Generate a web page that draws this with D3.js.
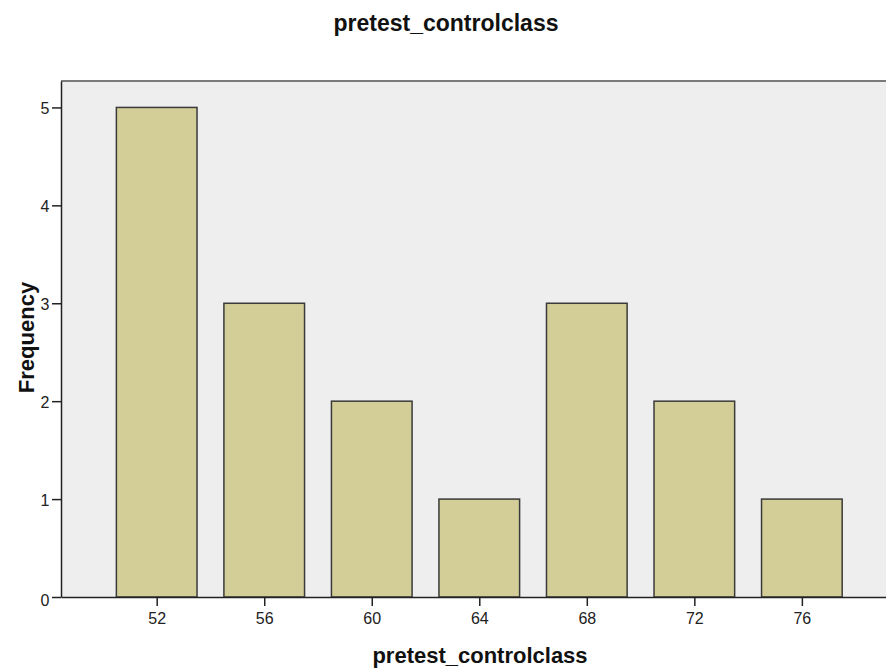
<!DOCTYPE html>
<html><head><meta charset="utf-8">
<script src="https://cdn.jsdelivr.net/npm/d3@7"></script>
<style>body{margin:0;background:#fff;} text{font-family:"Liberation Sans",Arial,sans-serif;}</style>
</head><body>
<svg id="c" width="886" height="668"></svg>
<script>
const categories = [52, 56, 60, 64, 68, 72, 76];
const frequencies = [5, 3, 2, 1, 3, 2, 1];
const yTicks = [0, 1, 2, 3, 4, 5];
const title = "pretest_controlclass";
const xTitle = "pretest_controlclass";
const yTitle = "Frequency";

const svg = d3.select("#c");
const L = 61, R = 886, T = 81, B = 597;
const x = d3.scaleLinear().domain([48.44, 79.13]).range([L, R]);
const y = d3.scaleLinear().domain([0, 5.27]).range([B, T]);

svg.append("rect").attr("x", L).attr("y", T).attr("width", R - L).attr("height", B - T).attr("fill", "#eeeeee");
svg.append("line").attr("x1", L).attr("x2", R).attr("y1", T).attr("y2", T).attr("stroke", "#7a7a7a").attr("stroke-width", 2);

svg.selectAll("rect.bar").data(categories).join("rect").attr("class", "bar")
  .attr("x", d => x(d - 1.5)).attr("width", d => x(d + 1.5) - x(d - 1.5))
  .attr("y", (d, i) => y(frequencies[i])).attr("height", (d, i) => y(0) - y(frequencies[i]))
  .attr("fill", "#d3ce97").attr("stroke", "#3a3a3a").attr("stroke-width", 1.5);

const font = "Liberation Sans, Arial, sans-serif";
const xAxis = svg.append("g").attr("transform", `translate(0,${B})`)
  .call(d3.axisBottom(x).tickValues(categories).tickSize(9).tickSizeOuter(0));
xAxis.select(".domain").attr("stroke", "#222").attr("stroke-width", 1.5);
xAxis.selectAll(".tick line").attr("stroke", "#222").attr("stroke-width", 1.5);
xAxis.selectAll(".tick text").attr("font-size", 16).attr("fill", "#222").attr("y", 27).attr("dy", 0).style("font-family", font);

const yAxis = svg.append("g").attr("transform", `translate(${L},0)`)
  .call(d3.axisLeft(y).tickValues(yTicks).tickSize(9).tickSizeOuter(0).tickFormat(d3.format("d")));
yAxis.select(".domain").attr("stroke", "#222").attr("stroke-width", 1.5);
yAxis.selectAll(".tick line").attr("stroke", "#222").attr("stroke-width", 1.5);
yAxis.selectAll(".tick text").attr("font-size", 16).attr("fill", "#222").attr("x", -11.5).attr("dy", "0.4em").style("font-family", font);
yAxis.selectAll(".tick").filter(d => d === 0).select("text").attr("dy", "0.55em");

svg.append("text").attr("x", 446).attr("y", 31).attr("text-anchor", "middle")
  .attr("font-size", 23).attr("font-weight", "bold").attr("fill", "#111").text(title);
svg.append("text").attr("x", 480).attr("y", 663).attr("text-anchor", "middle")
  .attr("font-size", 22).attr("font-weight", "bold").attr("fill", "#111").text(xTitle);
svg.append("text").attr("transform", "translate(34,337.5) rotate(-90)").attr("text-anchor", "middle")
  .attr("font-size", 22).attr("font-weight", "bold").attr("fill", "#111").text(yTitle);
</script>
</body></html>
